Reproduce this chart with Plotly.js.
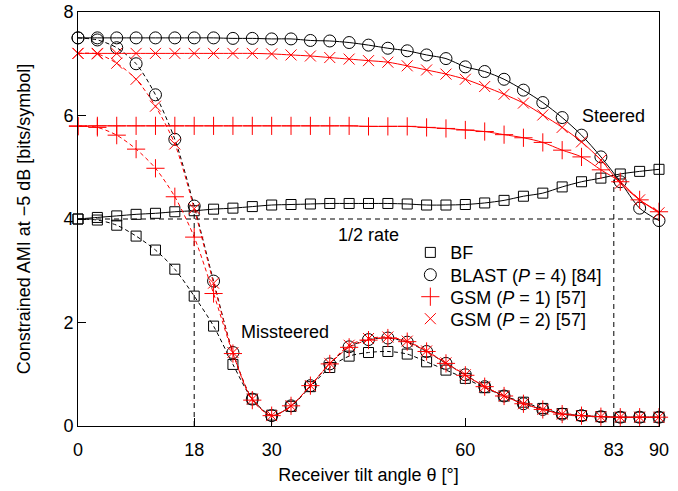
<!DOCTYPE html>
<html>
<head>
<meta charset="utf-8">
<script src="https://cdn.plot.ly/plotly-3.0.1.min.js"></script>
<style>html,body{margin:0;padding:0;background:#fff;}#chart{width:678px;height:491px;}</style>
</head>
<body>
<div id="chart"></div>
<script>
// Receiver tilt angle (degrees), markers every 3 degrees
const angles = [0,3,6,9,12,15,18,21,24,27,30,33,36,39,42,45,48,51,54,57,60,63,66,69,72,75,78,81,84,87,90];

// Steered (solid) curves
const bfSteered    = [4.00,4.03,4.06,4.09,4.11,4.14,4.16,4.19,4.21,4.24,4.27,4.28,4.29,4.30,4.30,4.30,4.30,4.29,4.27,4.27,4.28,4.31,4.36,4.44,4.50,4.62,4.72,4.79,4.87,4.92,4.96];
const blastSteered = [7.50,7.50,7.50,7.50,7.50,7.50,7.50,7.50,7.49,7.49,7.48,7.48,7.45,7.44,7.41,7.36,7.30,7.25,7.17,7.10,6.94,6.85,6.70,6.49,6.25,5.96,5.62,5.20,4.72,4.21,3.97];
const gsm1Steered  = [5.79,5.80,5.80,5.80,5.80,5.80,5.80,5.80,5.80,5.80,5.80,5.80,5.80,5.80,5.80,5.79,5.79,5.79,5.77,5.75,5.72,5.69,5.63,5.57,5.48,5.33,5.20,4.95,4.72,4.37,4.14];
const gsm2Steered  = [7.20,7.20,7.20,7.20,7.20,7.20,7.20,7.20,7.20,7.20,7.19,7.17,7.15,7.12,7.09,7.06,7.03,6.96,6.88,6.80,6.70,6.56,6.41,6.24,6.01,5.77,5.49,5.14,4.69,4.37,4.12];

// Missteered (dashed) curves
const bfMissteered    = [4.00,3.98,3.88,3.67,3.40,3.03,2.51,1.93,1.19,0.52,0.21,0.38,0.76,1.13,1.35,1.42,1.44,1.39,1.24,1.08,0.92,0.74,0.58,0.46,0.34,0.24,0.20,0.18,0.17,0.17,0.17];
const blastMissteered = [7.50,7.46,7.31,7.00,6.40,5.54,4.25,2.80,1.42,0.52,0.20,0.39,0.78,1.20,1.53,1.67,1.70,1.62,1.44,1.21,0.99,0.76,0.58,0.43,0.32,0.23,0.20,0.18,0.17,0.17,0.17];
const gsm1Missteered  = [5.80,5.77,5.62,5.35,4.98,4.43,3.65,2.56,1.40,0.50,0.20,0.39,0.78,1.20,1.52,1.66,1.70,1.63,1.44,1.21,0.98,0.76,0.58,0.43,0.32,0.23,0.20,0.18,0.17,0.17,0.17];
const gsm2Missteered  = [7.20,7.19,7.01,6.70,6.18,5.45,4.20,2.76,1.42,0.52,0.20,0.39,0.78,1.21,1.56,1.69,1.72,1.64,1.45,1.22,0.99,0.76,0.58,0.43,0.32,0.23,0.20,0.18,0.17,0.17,0.17];

// Legend labels
const seriesNames = ['BF','BLAST (<i>P</i> = 4) [84]','GSM (<i>P</i> = 1) [57]','GSM (<i>P</i> = 2) [57]'];

// Axis ticks
const xTicks = [0,18,30,60,83,90];
const yTicks = [0,2,4,6,8];

// Reference lines: half-rate level and the two crossing angles with their heights
const halfRate = 4;
const crossAngles = [18,83];
const crossHeights = [4.17,4.76];

// Annotation texts
const labelSteered = 'Steered';
const labelHalf = '1/2 rate';
const labelMiss = 'Missteered';

const FONT = 'Liberation Sans, Arial, Helvetica, sans-serif';
const FS = 18;
const RED = '#ff0000';
const BLK = '#000000';

const styles = [
  {symbol:'square-open', size:10, color:BLK},
  {symbol:'circle-open', size:12, color:BLK},
  {symbol:'cross-thin-open', size:13, color:RED},
  {symbol:'x-thin-open', size:11, color:RED}
];
const steered = [bfSteered, blastSteered, gsm1Steered, gsm2Steered];
const miss = [bfMissteered, blastMissteered, gsm1Missteered, gsm2Missteered];

const traces = [];
for (let i = 0; i < 4; i++) {
  const s = styles[i];
  const mk = {symbol:s.symbol, size:s.size, color:s.color, line:{color:s.color, width:1}};
  traces.push({x:angles, y:miss[i], mode:'lines+markers', type:'scatter', showlegend:false, cliponaxis:false,
    line:{color:s.color, width:1, dash:'4px,3px', shape:'spline', smoothing:0.8}, marker:mk, hoverinfo:'skip'});
  traces.push({x:angles, y:steered[i], mode:'lines+markers', type:'scatter', showlegend:false, cliponaxis:false,
    line:{color:s.color, width:1, shape:'spline', smoothing:0.8}, marker:mk, hoverinfo:'skip'});
}
const legendIds = ['legend','legend2','legend3','legend4'];
for (let i = 0; i < 4; i++) {
  const s = styles[i];
  traces.push({x:[null], y:[null], mode:'markers', type:'scatter', name:seriesNames[i], showlegend:true,
    legend:legendIds[i],
    marker:{symbol:s.symbol, size:s.size, color:s.color, line:{color:s.color, width:1}}});
}

const shapes = [
  {type:'line', xref:'x', yref:'y', x0:angles[0], x1:angles[angles.length-1], y0:halfRate, y1:halfRate,
   line:{color:BLK, width:1, dash:'5px,4px'}, layer:'below'}
];
for (let i = 0; i < crossAngles.length; i++) {
  shapes.push({type:'line', xref:'x', yref:'y', x0:crossAngles[i], x1:crossAngles[i], y0:0, y1:crossHeights[i],
    line:{color:BLK, width:1, dash:'5px,4px'}, layer:'below'});
}

const legendRowsY = [0.4186, 0.3647, 0.3116, 0.2585];
const layout = {
  width:678, height:491,
  margin:{l:78, r:19, t:12, b:65},
  paper_bgcolor:'#fff', plot_bgcolor:'#fff',
  font:{family:FONT, size:FS, color:BLK},
  showlegend:true,
  xaxis:{range:[0,90], tickvals:xTicks, ticktext:xTicks.map(String), ticks:'inside', ticklen:8, tickwidth:1,
    tickcolor:BLK, showline:true, linecolor:BLK, linewidth:1, mirror:true, showgrid:false, zeroline:false,
    tickfont:{family:FONT, size:FS}, fixedrange:true, ticklabelstandoff:7,
    title:{text:'Receiver tilt angle θ [°]', font:{family:FONT, size:FS}, standoff:9}},
  yaxis:{range:[0,8], tickvals:yTicks, ticks:'inside', ticklen:8, tickwidth:1, tickcolor:BLK,
    showline:true, linecolor:BLK, linewidth:1, mirror:true, showgrid:false, zeroline:false,
    tickfont:{family:FONT, size:FS}, fixedrange:true,
    title:{text:'Constrained AMI at −5 dB [bits/symbol]', font:{family:FONT, size:FS}, standoff:28}},
  shapes:shapes,
  annotations:[
    {x:83.0, y:5.99, xref:'x', yref:'y', text:labelSteered, showarrow:false, font:{family:FONT, size:FS}},
    {x:45.0, y:3.69, xref:'x', yref:'y', text:labelHalf, showarrow:false, font:{family:FONT, size:FS}},
    {x:32.0, y:1.82, xref:'x', yref:'y', text:labelMiss, showarrow:false, font:{family:FONT, size:FS}}
  ]
};
for (let i = 0; i < 4; i++) {
  layout[legendIds[i]] = {x:0.572, y:legendRowsY[i], xanchor:'left', yanchor:'middle',
    bgcolor:'rgba(0,0,0,0)', borderwidth:0, font:{family:FONT, size:FS, color:BLK}, itemsizing:'trace'};
}

Plotly.newPlot('chart', traces, layout, {staticPlot:true, displayModeBar:false});
</script>
</body>
</html>
